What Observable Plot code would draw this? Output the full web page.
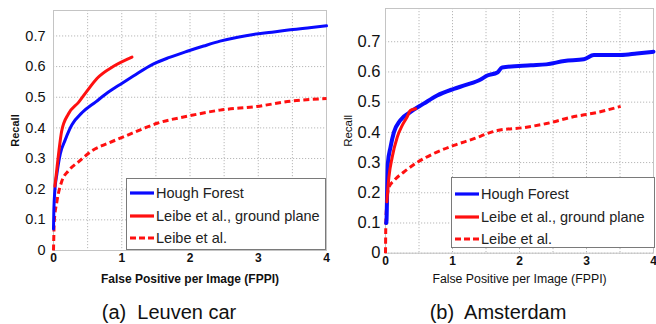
<!DOCTYPE html>
<html>
<head>
<meta charset="utf-8">
<script src="https://cdn.jsdelivr.net/npm/d3@7"></script>
<script src="https://cdn.jsdelivr.net/npm/@observablehq/plot@0.6"></script>
<style>
  body { margin: 0; background: #fff; }
  #wrap { position: relative; width: 656px; height: 324px; overflow: hidden; font-family: "Liberation Sans", Arial, sans-serif; background: #fff; }
  .panel { position: absolute; top: 0; }
  .legend { position: absolute; border: 1.5px solid #7a7a7a; background: #fff; box-sizing: border-box; font-size: 14.5px; color: #222; }
  .row { position: absolute; left: 3px; height: 18px; display: flex; align-items: center; white-space: nowrap; }
  .row svg { margin-right: 2px; }
  .caption { position: absolute; font-size: 20px; color: #111; white-space: pre; transform: translate(-50%, -50%); }
</style>
</head>
<body>
<div id="wrap"></div>
<script>
// ---------- data ----------
const seriesNames = ["Hough Forest", "Leibe et al., ground plane", "Leibe et al."];
const captions = ["(a)  Leuven car", "(b)  Amsterdam"];
const xLabel = "False Positive per Image (FPPI)";
const yLabel = "Recall";
const xTicks = [0, 1, 2, 3, 4];
const yTicks = [0, 0.1, 0.2, 0.3, 0.4, 0.5, 0.6, 0.7];
const xGrid = [0, 0.5, 1, 1.5, 2, 2.5, 3, 3.5, 4];

// (a) Leuven car: [FPPI, recall]
const leuvenHough = [[0,0.07],[0.005,0.13],[0.02,0.196],[0.05,0.25],[0.1,0.316],[0.17,0.36],[0.27,0.41],[0.42,0.45],[0.62,0.485],[0.8,0.516],[1.0,0.545],[1.17,0.569],[1.46,0.608],[1.7,0.63],[1.96,0.65],[2.2,0.667],[2.44,0.683],[2.7,0.696],[2.93,0.705],[3.2,0.712],[3.47,0.72],[3.75,0.727],[4.0,0.733]];
const leuvenGround = [[0.02,0.21],[0.03,0.228],[0.08,0.326],[0.12,0.39],[0.22,0.446],[0.37,0.484],[0.49,0.52],[0.64,0.562],[0.88,0.601],[1.15,0.631]];
const leuvenPlain = [[0,0],[0.005,0.05],[0.01,0.09],[0.05,0.16],[0.12,0.225],[0.22,0.26],[0.37,0.29],[0.56,0.325],[0.8,0.35],[1.05,0.373],[1.34,0.40],[1.52,0.415],[1.96,0.438],[2.44,0.458],[2.98,0.47],[3.47,0.487],[4.0,0.496]];

// (b) Amsterdam
const amsHough = [[0.01,0.1],[0.015,0.108],[0.025,0.21],[0.035,0.297],[0.075,0.351],[0.125,0.40],[0.22,0.44],[0.37,0.467],[0.57,0.495],[0.77,0.522],[1.02,0.544],[1.2,0.557],[1.42,0.575],[1.52,0.588],[1.67,0.598],[1.74,0.615],[2.17,0.622],[2.4,0.625],[2.67,0.636],[2.96,0.642],[3.11,0.656],[3.51,0.656],[3.75,0.661],[4.0,0.667]];
const amsGround = [[0.02,0.17],[0.025,0.185],[0.05,0.25],[0.1,0.318],[0.175,0.384],[0.25,0.423],[0.32,0.45],[0.37,0.472],[0.45,0.478]];
const amsPlain = [[0,0],[0.005,0.1],[0.015,0.15],[0.05,0.218],[0.125,0.24],[0.27,0.268],[0.47,0.30],[0.72,0.33],[1.02,0.357],[1.32,0.379],[1.57,0.40],[1.67,0.406],[2.07,0.416],[2.42,0.43],[2.77,0.45],[3.16,0.466],[3.51,0.486]];

const BLUE = "#0a0aff", RED = "#ff1010";

function panel(cfg) {
  const fx = d => d[0], fy = d => d[1];
  return Plot.plot({
    width: cfg.width, height: 286,
    marginLeft: cfg.ml, marginRight: cfg.mr, marginTop: cfg.mt, marginBottom: cfg.mb,
    style: { fontFamily: '"Liberation Sans", Arial, sans-serif', color: "#111", background: "transparent", overflow: "visible" },
    x: { domain: [0, 4] },
    y: { domain: [0, cfg.ymax] },
    marks: [
      Plot.gridX(xGrid, { stroke: "#b8b8b8", strokeOpacity: 1, strokeDasharray: "1.2,1.8" }),
      Plot.gridY(yTicks, { stroke: "#b8b8b8", strokeOpacity: 1, strokeDasharray: "1.2,1.8" }),
      Plot.frame({ stroke: "#c4c4c4" }),
      Plot.line(cfg.plain, { x: fx, y: fy, stroke: RED, strokeWidth: 3, strokeDasharray: "6,3.5", strokeLinecap: "butt", strokeLinejoin: "miter", curve: "monotone-x" }),
      Plot.line(cfg.hough, { x: fx, y: fy, stroke: BLUE, strokeWidth: cfg.hw, curve: "monotone-x" }),
      Plot.line(cfg.ground, { x: fx, y: fy, stroke: RED, strokeWidth: 3, curve: "monotone-x" }),
      Plot.axisX(xTicks, { tickSize: 0, tickPadding: 3, fontSize: 12, fontWeight: "bold", label: null, tickFormat: d => String(d) }),
      Plot.axisX([], { label: xLabel, labelAnchor: "center", labelArrow: "none", labelOffset: cfg.xlo, fontSize: cfg.xlfs, fontWeight: cfg.xlfw, tickSize: 0 }),
      Plot.axisY(yTicks, { tickSize: 0, tickPadding: cfg.tp, fontSize: cfg.yfs, label: null, tickFormat: d => d === 0 ? "0" : d.toFixed(1) }),
      Plot.axisY([], { label: yLabel, labelAnchor: "center", labelArrow: "none", labelOffset: cfg.ylo, fontSize: cfg.ylfs, fontWeight: cfg.ylfw, tickSize: 0 })
    ]
  });
}

const wrap = document.getElementById("wrap");

const left = panel({ width: 330, ml: 53, mr: 4, mt: 10, mb: 36, ymax: 0.783, hough: leuvenHough, ground: leuvenGround, plain: leuvenPlain, hw: 3, tp: 8, yfs: 14.5, xlo: 32, xlfs: 12, xlfw: "bold", ylo: 42, ylfs: 11, ylfw: "bold" });
left.classList.add("panel"); left.style.left = "0px";
wrap.appendChild(left);

const right = panel({ width: 326, ml: 55, mr: 3, mt: 8, mb: 33.3, ymax: 0.81, hough: amsHough, ground: amsGround, plain: amsPlain, hw: 4, tp: 5, yfs: 16.5, xlo: 30, xlfs: 12.3, xlfw: "normal", ylo: 42, ylfs: 11.5, ylfw: "normal" });
right.classList.add("panel"); right.style.left = "330px";
wrap.appendChild(right);

function sample(color, dashed) {
  return `<svg width="24" height="6"><line x1="0" y1="3" x2="24" y2="3" stroke="${color}" stroke-width="3.2" ${dashed ? 'stroke-dasharray="6,3"' : ""}/></svg>`;
}
function legend(x, y, w, h, rowsY) {
  const d = document.createElement("div");
  d.className = "legend";
  Object.assign(d.style, { left: x + "px", top: y + "px", width: w + "px", height: h + "px" });
  const styles = [[BLUE, false], [RED, false], [RED, true]];
  seriesNames.forEach((n, i) => {
    const r = document.createElement("div");
    r.className = "row";
    r.style.top = (rowsY[i] - 9) + "px";
    r.innerHTML = sample(styles[i][0], styles[i][1]) + `<span>${n}</span>`;
    d.appendChild(r);
  });
  wrap.appendChild(d);
}
legend(126, 178, 200, 72, [14, 37, 59]);
legend(451, 177, 204, 71, [16, 39, 61]);

function caption(text, cx, cy) {
  const c = document.createElement("div");
  c.className = "caption";
  c.textContent = text;
  c.style.left = cx + "px"; c.style.top = cy + "px";
  wrap.appendChild(c);
}
caption(captions[0], 169, 312);
caption(captions[1], 498, 312);
</script>
</body>
</html>
